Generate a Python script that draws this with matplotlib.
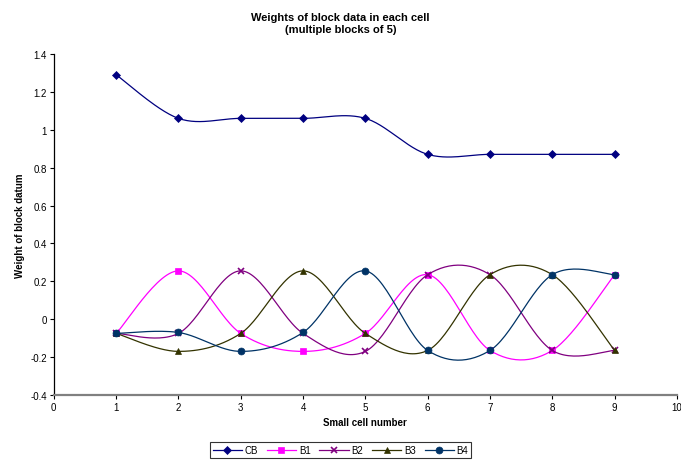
import numpy as np
import matplotlib.pyplot as plt

plt.rcParams['font.family'] = ['Liberation Sans', 'DejaVu Sans']

# ---------------------------------------------------------------------------
# Data
# ---------------------------------------------------------------------------
cells = [1, 2, 3, 4, 5, 6, 7, 8, 9]
cb = [1.29, 1.06, 1.06, 1.06, 1.06, 0.87, 0.87, 0.87, 0.87]
b1 = [-0.075, 0.255, -0.075, -0.17, -0.075, 0.235, -0.165, -0.165, 0.235]
b2 = [-0.075, -0.075, 0.255, -0.075, -0.17, 0.235, 0.235, -0.165, -0.165]
b3 = [-0.075, -0.17, -0.075, 0.255, -0.075, -0.165, 0.235, 0.235, -0.165]
b4 = [-0.075, -0.07, -0.17, -0.07, 0.255, -0.165, -0.165, 0.235, 0.235]

series = [
    ("CB", cb, "#000080", "D", 4),
    ("B1", b1, "#FF00FF", "s", 5),
    ("B2", b2, "#800080", "x", 5),
    ("B3", b3, "#333300", "^", 5),
    ("B4", b4, "#003366", "o", 5),
]


def smooth(xs, ys, n=30):
    """Excel-like smoothed line (Catmull-Rom via cubic Bezier segments)."""
    p = np.column_stack([xs, ys]).astype(float)
    p = np.vstack([p[0], p, p[-1]])
    out = []
    for i in range(1, len(p) - 2):
        p0, p1, p2, p3 = p[i - 1], p[i], p[i + 1], p[i + 2]
        c1 = p1 + (p2 - p0) / 6.0
        c2 = p2 - (p3 - p1) / 6.0
        t = np.linspace(0, 1, n)[:, None]
        seg = ((1 - t) ** 3) * p1 + 3 * ((1 - t) ** 2) * t * c1 \
            + 3 * (1 - t) * t ** 2 * c2 + t ** 3 * p2
        out.append(seg if i == 1 else seg[1:])
    out = np.vstack(out)
    return out[:, 0], out[:, 1]


fig = plt.figure(figsize=(6.81, 4.64), dpi=100)
ax = fig.add_axes([0.079, 0.1466, 0.915, 0.735])

handles = []
for name, vals, color, marker, ms in series:
    sx, sy = smooth(cells, vals)
    ax.plot(sx, sy, color=color, lw=0.9)
    ax.plot(cells, vals, linestyle="none", marker=marker, color=color,
            markersize=ms, markeredgewidth=1.2 if marker == "x" else 0.5)
    h, = ax.plot([], [], color=color, lw=0.9, marker=marker, markersize=ms,
                 markeredgewidth=1.2 if marker == "x" else 0.5)
    handles.append((h, name))

ax.set_xlim(0, 10)
ax.set_ylim(-0.4, 1.4)
ax.set_xticks(range(0, 11))
ax.set_yticks(np.round(np.arange(-0.4, 1.41, 0.2), 1))
ax.set_yticklabels(["-0.4", "-0.2", "0", "0.2", "0.4", "0.6", "0.8", "1",
                    "1.2", "1.4"])
ax.tick_params(labelsize=7, length=3, width=0.8, direction="out", pad=2)

for s in ("top", "right"):
    ax.spines[s].set_visible(False)
ax.spines["left"].set_linewidth(0.9)
ax.spines["bottom"].set_color("#808080")
ax.spines["bottom"].set_linewidth(1.6)

ax.set_xlabel("Small cell number", fontsize=7, fontweight="bold", labelpad=4)
ax.set_ylabel("Weight of block datum", fontsize=7, fontweight="bold",
              labelpad=4)
fig.text(0.5, 0.972, "Weights of block data in each cell\n(multiple blocks of 5)",
         ha="center", va="top", fontsize=8, fontweight="bold", linespacing=1.3)

leg = fig.legend([h for h, _ in handles], [n for _, n in handles],
                 loc="lower center", bbox_to_anchor=(0.5, 0.0), ncol=5,
                 fontsize=7, frameon=True, fancybox=False, handlelength=3.0,
                 handletextpad=0.3, columnspacing=0.9, borderpad=0.3)
leg.get_frame().set_edgecolor("black")
leg.get_frame().set_linewidth(0.8)

fig.savefig("out.png", dpi=100)
